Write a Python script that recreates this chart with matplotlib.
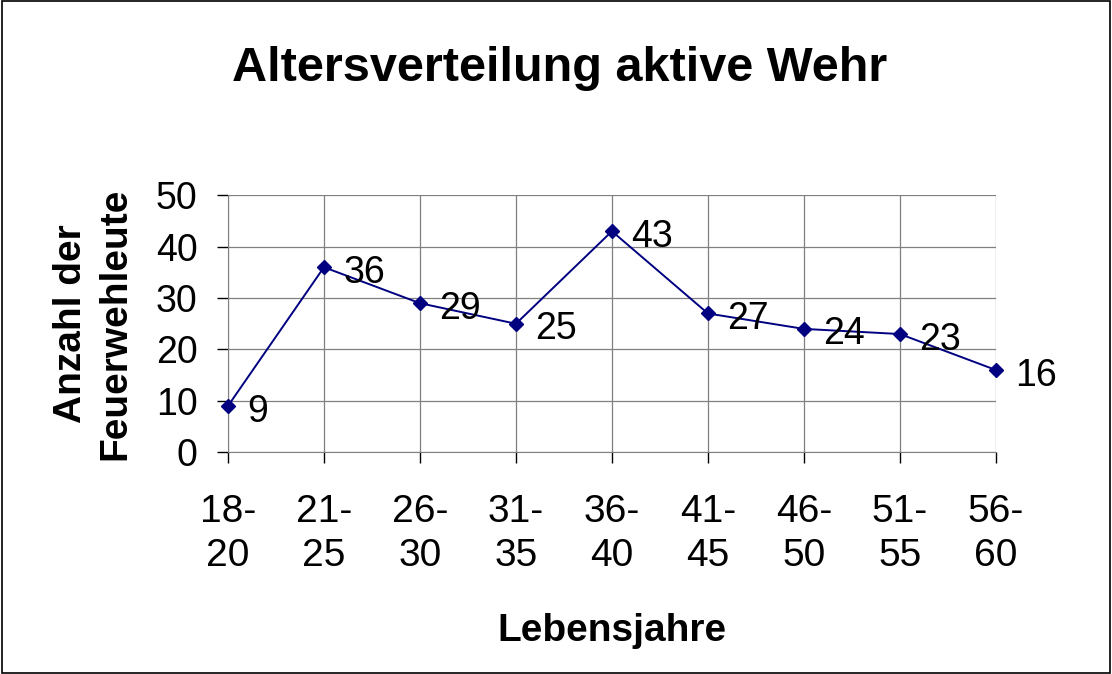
import numpy as np
import matplotlib.pyplot as plt
from matplotlib.patches import Rectangle

categories = ["18-\n20", "21-\n25", "26-\n30", "31-\n35", "36-\n40", "41-\n45", "46-\n50", "51-\n55", "56-\n60"]
counts = [9, 36, 29, 25, 43, 27, 24, 23, 16]
yticks = [0, 10, 20, 30, 40, 50]

plt.rcParams['font.family'] = ['Liberation Sans', 'DejaVu Sans']

fig = plt.figure(figsize=(11.12, 6.74), dpi=100)
fig.patches.append(Rectangle((0.0015, 0.0015), 0.997, 0.997, transform=fig.transFigure,
                             fill=False, edgecolor="black", linewidth=1.2))

ax = fig.add_axes([0.205, 0.329, 0.6906, 0.3813])
x = np.arange(len(categories))
ax.plot(x, counts, color="#000080", linewidth=1.4, marker="D", markersize=7, zorder=3, clip_on=False)
for xi, v in zip(x, counts):
    ax.annotate(str(v), (xi, v), xytext=(14, -4), textcoords="offset points",
                ha="left", va="center", fontsize=27)

ax.set_xlim(0, len(categories) - 1)
ax.set_ylim(0, 50)
ax.set_xticks(x)
ax.set_xticklabels(categories, fontsize=28, linespacing=1.3)
ax.set_yticks(yticks)
ax.tick_params(axis="y", labelsize=27, length=8, width=1, pad=14)
ax.tick_params(axis="x", length=8, width=1, pad=22)
ax.grid(True, color="#808080", linewidth=0.9)
ax.set_axisbelow(True)
for s in ["top", "right"]:
    ax.spines[s].set_visible(False)
for s in ["left", "bottom"]:
    ax.spines[s].set_color("#808080")

ax.set_xlabel("Lebensjahre", fontsize=28, fontweight="bold", labelpad=28)
ax.set_ylabel("Anzahl der\nFeuerwehleute", fontsize=28, fontweight="bold", labelpad=16, linespacing=1.3)
fig.text(0.503, 0.899, "Altersverteilung aktive Wehr", ha="center", va="center",
         fontsize=35, fontweight="bold")

fig.savefig("out.png", dpi=100)
